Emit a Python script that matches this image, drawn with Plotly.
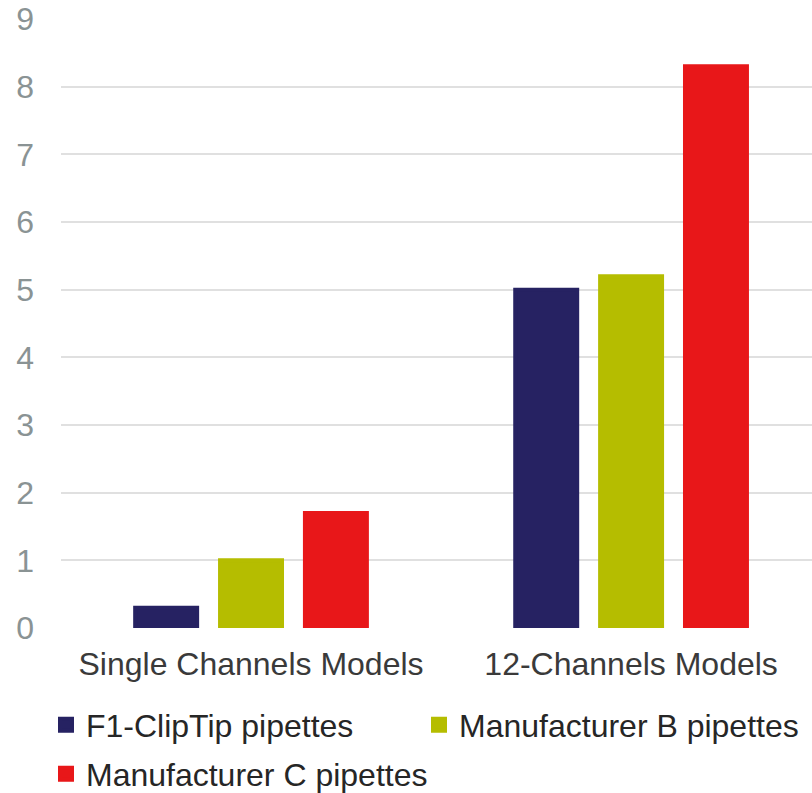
import plotly.graph_objects as go

categories = ["Single Channels Models", "12-Channels Models"]
series_names = ["F1-ClipTip pipettes", "Manufacturer B pipettes", "Manufacturer C pipettes"]
f1_values = [0.3, 5.0]
b_values = [1.0, 5.2]
c_values = [1.7, 8.3]
colors = ["#262262", "#b5bd00", "#e81719"]
y_ticks = [0, 1, 2, 3, 4, 5, 6, 7, 8, 9]

FONT = "Liberation Sans, Arial, sans-serif"

fig = go.Figure()
for name, vals, col, lg in zip(series_names, [f1_values, b_values, c_values], colors,
                               ["legend", "legend3", "legend2"]):
    fig.add_trace(go.Bar(
        x=categories, y=vals, name=name,
        marker=dict(color=col, line=dict(color=col, width=4)),
        legend=lg,
    ))

leg_common = dict(
    orientation="h", yanchor="middle", xanchor="left",
    font=dict(family=FONT, size=32, color="#262626"),
    bgcolor="rgba(0,0,0,0)",
)

fig.update_layout(
    width=812, height=793,
    margin=dict(l=61, r=0, t=19, b=165, autoexpand=False),
    paper_bgcolor="white", plot_bgcolor="white",
    barmode="group", bargap=0.33, bargroupgap=0.27,
    font=dict(family=FONT, size=32, color="#262626"),
    xaxis=dict(
        type="category", range=[-0.5, 1.476],
        showgrid=False, zeroline=False, showline=False, ticks="",
        tickfont=dict(family=FONT, size=32, color="#3a3a3a"),
        ticklabelstandoff=14,
    ),
    yaxis=dict(
        range=[0, 9], tickvals=y_ticks,
        showgrid=True, gridcolor="#e0e0e0", gridwidth=1.5,
        zeroline=False, showline=False, ticks="",
        tickfont=dict(family=FONT, size=32, color="#8a9394"),
        ticklabelstandoff=26,
    ),
    legend=dict(x=-0.02, y=-0.1593, **leg_common),
    legend3=dict(x=0.4767, y=-0.1593, **leg_common),
    legend2=dict(x=-0.02, y=-0.2397, **leg_common),
    showlegend=True,
)

fig.write_html("out.html")
